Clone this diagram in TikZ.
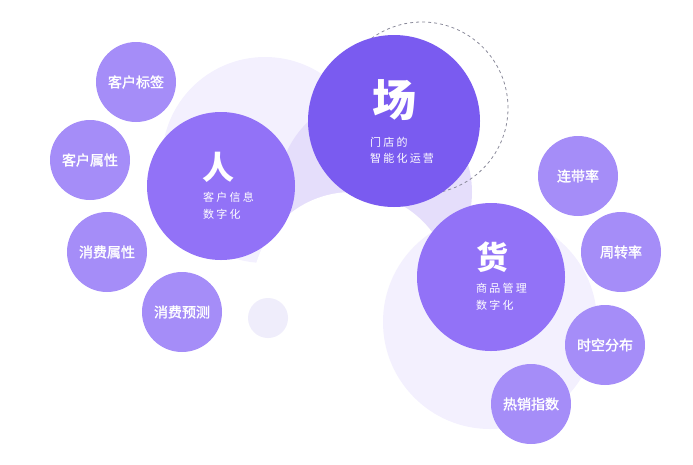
\documentclass[tikz,border=0pt]{standalone}
\usepackage{fontspec}
\newfontfamily\cjk{Noto Sans CJK SC}
\newfontfamily\cjkm[FakeBold=1.6]{Noto Sans CJK SC}
\newfontfamily\cjksp[LetterSpace=20]{Noto Sans CJK SC}
\definecolor{cdark}{HTML}{7A5BF0}
\definecolor{cmid}{HTML}{9272F7}
\definecolor{csmall}{HTML}{A58DF8}
\definecolor{cpale}{HTML}{F3F0FE}
\definecolor{clav}{HTML}{E5DEFB}
\definecolor{cdot}{HTML}{EFEDFB}
\definecolor{cdash}{HTML}{8A8A9A}
\tikzset{
  bubble/.style={circle, draw=none, inner sep=0pt},
  bigdark/.style={bubble, fill=cdark, minimum size=172pt},
  bigmid/.style={bubble, fill=cmid, minimum size=148pt},
  smallc/.style={bubble, fill=csmall, minimum size=80pt, text=white, font=\cjkm\fontsize{14}{16}\selectfont},
  headtxt/.style={text=white, inner sep=0pt, font=\cjk\bfseries\fontsize{32}{34}\selectfont},
  subtxt/.style={text=white, inner sep=0pt, anchor=west, font=\cjksp\fontsize{11}{13}\selectfont},
}
\begin{document}
\begin{tikzpicture}[x=1pt,y=-1pt]
\useasboundingbox (0,0) rectangle (693,464);
% background blobs
\fill[cpale] (265,160) circle (103);
\fill[clav] (375,192) circle (97);
\fill[white] (352,292) circle (100);
\fill[cpale] (490,322) circle (107);
\node[bubble, fill=cdot, minimum size=40pt] (dot) at (268,318) {};
% dashed ring
\node[bubble, draw=cdash, line width=0.8pt, dash pattern=on 3pt off 3pt, minimum size=172pt] (ring) at (422,108) {};
% main bubbles
\node[bigdark] (chang) at (394,121) {};
\node[bigmid] (ren) at (221,186) {};
\node[bigmid] (huo) at (491,277) {};
% main texts
\node[headtxt, font=\cjk\bfseries\fontsize{44}{46}\selectfont] (changt) at (394,100) {场};
\node[subtxt] (changs1) at (370,142) {门店的};
\node[subtxt] (changs2) at (370,158) {智能化运营};
\node[headtxt] (rent) at (218,167) {人};
\node[subtxt] (rens1) at (203,197) {客户信息};
\node[subtxt] (rens2) at (203,214) {数字化};
\node[headtxt] (huot) at (492,257) {货};
\node[subtxt] (huos1) at (476,288) {商品管理};
\node[subtxt] (huos2) at (476,305) {数字化};
% small bubbles
\node[smallc] (s1) at (136,82) {客户标签};
\node[smallc] (s2) at (90,160) {客户属性};
\node[smallc] (s3) at (107,252) {消费属性};
\node[smallc] (s4) at (182,312) {消费预测};
\node[smallc] (s5) at (578,176) {连带率};
\node[smallc] (s6) at (621,252) {周转率};
\node[smallc] (s7) at (605,345) {时空分布};
\node[smallc] (s8) at (531,404) {热销指数};
\end{tikzpicture}
\end{document}
